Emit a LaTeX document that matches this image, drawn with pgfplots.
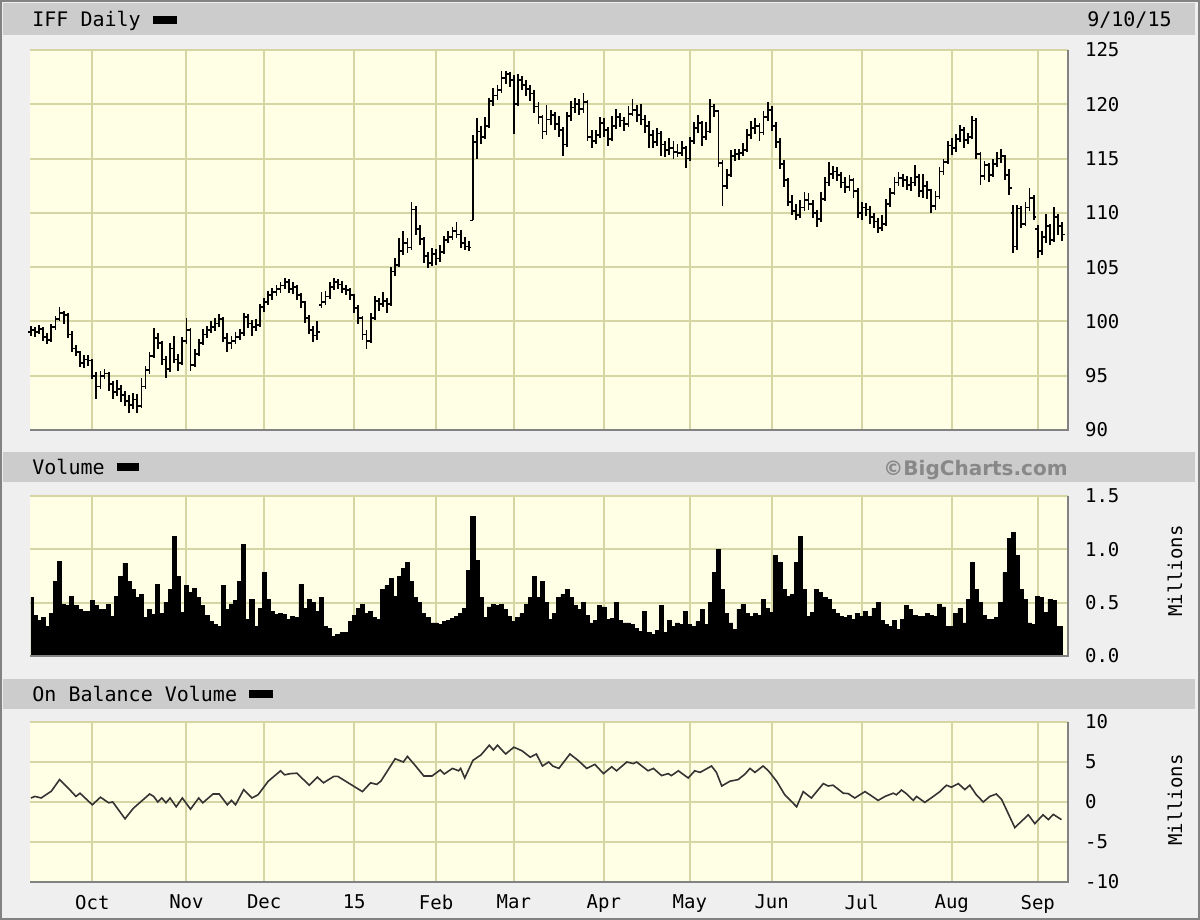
\documentclass[border=0pt]{standalone}
\usepackage{fontspec}
\setmainfont{DejaVu Sans}
\setmonofont{DejaVu Sans Mono}
\usepackage{pgfplots}
\usepackage{pgfplotstable}
\pgfplotsset{compat=1.18}

\definecolor{panelbg}{RGB}{255,255,230}
\definecolor{gridc}{RGB}{214,214,164}
\definecolor{outerbg}{RGB}{239,239,239}
\definecolor{barbg}{RGB}{204,204,204}
\definecolor{wmark}{RGB}{136,136,136}
\definecolor{bevel}{RGB}{130,130,130}

% open / close ticks of the OHLC bars
\pgfdeclareplotmark{ctick}{\pgfpathmoveto{\pgfpointorigin}\pgfpathlineto{\pgfqpoint{1.3pt}{0pt}}\pgfusepathqstroke}
\pgfdeclareplotmark{otick}{\pgfpathmoveto{\pgfpointorigin}\pgfpathlineto{\pgfqpoint{-1.3pt}{0pt}}\pgfusepathqstroke}

\pgfplotsset{
  bc/.style={
    scale only axis, width=519pt, anchor=north west,
    xmin=-0.22, xmax=253.4,
    axis background/.style={fill=panelbg},
    grid=major, major grid style={gridc, line width=1pt},
    axis line style={draw=none}, major tick length=0pt,
    xtick={15,38,57,79,99,118,140,161,181,203,225,246},
    xticklabels={},
    yticklabel pos=right,
    ticklabel style={font=\ttfamily\fontsize{9.5}{10}\selectfont},
    /pgf/number format/assume math mode=true,
    yticklabel style={anchor=west, xshift=5pt},
  }
}

% trading day index (0 = 9/10/14), open, high, low, close
\pgfplotstableread{
x o h l c
0 99.0 99.6 98.7 99.2
1 99.2 99.5 98.6 99.0
2 99.0 99.7 98.8 99.3
3 99.3 99.5 98.2 98.6
4 98.6 98.9 97.9 98.3
5 98.3 99.8 98.1 99.5
6 99.5 100.5 99.2 100.2
7 100.2 101.3 100.0 100.8
8 100.8 101.0 99.8 100.6
9 100.6 100.8 98.5 98.8
10 98.8 99.1 97.2 97.5
11 97.5 97.8 96.8 97.2
12 97.2 97.3 95.8 96.2
13 96.2 96.9 95.7 96.5
14 96.5 96.9 95.9 96.4
15 96.4 96.5 94.7 95.0
16 95.0 95.3 92.9 94.0
17 94.0 95.4 93.8 95.0
18 95.0 95.6 94.7 95.2
19 95.2 95.3 93.6 94.2
20 94.2 94.5 92.9 93.5
21 93.5 94.6 93.1 93.8
22 93.8 94.1 92.6 93.2
23 93.2 93.6 92.2 92.7
24 92.7 93.2 91.6 92.3
25 92.3 93.4 91.9 92.8
26 92.8 93.3 91.6 92.2
27 92.2 94.8 92.0 94.0
28 94.0 95.9 93.8 95.5
29 95.5 97.2 95.2 96.8
30 96.8 99.4 96.6 98.5
31 98.5 98.9 97.5 98.0
32 98.0 98.2 96.0 96.5
33 96.5 96.8 94.8 95.6
34 95.6 98.0 95.3 97.5
35 97.5 98.7 96.2 96.5
36 96.5 97.0 95.4 96.2
37 96.2 98.6 96.0 98.2
38 98.2 100.3 97.9 99.2
39 99.2 99.4 95.4 96.0
40 96.0 97.5 95.8 97.0
41 97.0 98.4 96.8 98.0
42 98.0 99.3 97.8 98.8
43 98.8 99.6 98.5 99.2
44 99.2 100.0 98.9 99.5
45 99.5 100.3 99.1 99.8
46 99.8 100.7 99.5 100.2
47 100.2 100.4 98.1 98.5
48 98.5 98.9 97.2 98.0
49 98.0 98.7 97.5 98.2
50 98.2 99.0 97.9 98.6
51 98.6 99.3 98.3 98.9
52 98.9 100.8 98.7 100.4
53 100.4 100.7 99.4 99.8
54 99.8 100.1 98.7 99.5
55 99.5 100.2 99.1 99.7
56 99.7 101.6 99.5 101.3
57 101.3 102.2 100.9 101.8
58 101.8 102.8 101.5 102.4
59 102.4 103.1 102.0 102.7
60 102.7 103.4 102.3 103.0
61 103.0 103.6 102.6 103.3
62 103.3 104.0 103.0 103.6
63 103.6 103.9 102.6 103.0
64 103.0 103.6 102.5 103.2
65 103.2 103.4 102.0 102.4
66 102.4 102.6 101.2 101.8
67 101.8 101.9 99.9 100.3
68 100.3 100.6 98.8 99.2
69 99.2 99.6 98.1 98.7
70 98.7 100.0 98.3 99.0
71 101.5 102.7 101.2 101.8
72 101.8 102.8 101.5 102.3
73 102.3 103.6 102.1 103.2
74 103.2 104.0 102.9 103.6
75 103.6 103.9 103.0 103.4
76 103.4 103.7 102.6 103.0
77 103.0 103.4 102.4 102.9
78 102.9 103.1 102.0 102.4
79 102.4 102.5 100.8 101.2
80 101.2 101.5 99.8 100.3
81 100.3 100.5 98.3 98.8
82 98.8 99.2 97.5 98.2
83 98.2 100.8 98.0 100.3
84 100.3 102.3 100.1 101.9
85 101.9 102.2 101.0 101.6
86 101.6 102.7 101.3 101.9
87 101.9 102.2 100.8 101.6
88 101.6 105.0 101.4 104.6
89 104.6 105.8 104.2 105.2
90 105.2 107.7 105.0 106.5
91 106.5 108.3 106.1 107.2
92 107.2 107.7 106.3 106.8
93 106.8 111.0 106.6 110.3
94 110.3 110.6 108.0 108.5
95 108.5 108.9 107.0 107.6
96 107.6 107.8 105.4 106.0
97 106.0 106.4 104.9 105.4
98 105.4 106.8 105.1 106.2
99 106.2 106.7 105.2 105.8
100 105.8 107.0 105.5 106.4
101 106.4 107.9 106.2 107.5
102 107.5 108.3 107.2 107.8
103 107.8 108.7 107.5 108.3
104 108.3 109.2 107.7 108.0
105 108.0 108.4 106.8 107.2
106 107.2 107.8 106.6 106.9
107 106.9 107.4 106.5 106.8
108 109.3 117.2 109.3 116.5
109 116.5 118.7 115.0 117.5
110 117.5 118.0 116.3 117.0
111 117.0 118.8 116.8 118.0
112 118.0 120.6 117.8 120.3
113 120.3 121.5 119.8 120.8
114 120.8 121.8 120.4 121.3
115 121.3 123.1 121.0 122.4
116 122.4 123.1 121.9 122.8
117 122.8 123.0 121.6 122.2
118 122.2 122.7 117.3 120.0
119 120.0 122.8 119.8 122.2
120 122.2 122.6 121.3 121.8
121 121.8 122.2 120.8 121.4
122 121.4 121.8 120.3 121.0
123 121.0 121.3 119.2 119.8
124 119.8 120.2 118.2 118.8
125 118.8 119.0 116.8 117.5
126 117.5 119.9 117.2 118.6
127 118.6 119.5 118.1 119.0
128 119.0 119.3 117.6 118.2
129 118.2 118.9 117.0 117.6
130 117.6 117.9 115.2 116.3
131 116.3 119.3 116.1 118.9
132 118.9 120.3 118.5 119.7
133 119.7 120.6 119.2 120.0
134 120.0 120.5 119.0 119.6
135 119.6 121.0 119.2 120.2
136 120.2 120.4 116.6 117.0
137 117.0 117.6 116.0 116.6
138 116.6 117.6 116.3 117.2
139 117.2 118.8 116.9 118.3
140 118.3 118.7 117.0 117.6
141 117.6 117.9 116.2 116.8
142 116.8 118.9 116.6 118.0
143 118.0 119.6 117.7 118.8
144 118.8 119.2 117.9 118.5
145 118.5 118.8 117.5 118.2
146 118.2 119.8 117.9 119.1
147 119.1 120.5 118.9 119.5
148 119.5 119.9 118.4 119.0
149 119.0 120.0 118.1 118.6
150 118.6 119.0 117.4 118.0
151 118.0 118.5 116.0 117.2
152 117.2 117.6 116.0 116.5
153 116.5 117.8 116.2 117.3
154 117.3 117.5 115.2 116.3
155 116.3 116.6 115.1 115.8
156 115.8 116.9 115.3 116.0
157 116.0 116.6 115.0 115.6
158 115.6 116.3 115.1 115.5
159 115.5 116.6 115.2 116.0
160 116.0 116.2 114.1 115.0
161 115.0 117.0 114.8 116.6
162 116.6 118.4 116.3 117.8
163 117.8 119.0 117.4 118.3
164 118.3 118.5 116.2 117.0
165 117.0 118.4 116.7 117.5
166 117.5 120.5 117.4 119.8
167 119.8 120.0 118.8 119.4
168 119.4 119.5 114.2 114.6
169 114.6 114.9 110.6 112.5
170 112.5 114.0 112.2 113.5
171 113.5 115.8 113.3 115.2
172 115.2 115.9 114.8 115.4
173 115.4 115.9 114.9 115.5
174 115.5 116.4 115.2 115.8
175 115.8 117.7 115.6 117.2
176 117.2 118.5 116.8 117.8
177 117.8 118.7 117.3 118.0
178 118.0 118.3 116.6 117.4
179 117.4 119.4 117.2 118.8
180 118.8 120.2 118.5 119.5
181 119.5 119.8 117.5 118.0
182 118.0 118.4 116.0 116.5
183 116.5 116.9 114.0 114.5
184 114.5 114.9 112.4 113.0
185 113.0 113.2 110.6 111.0
186 111.0 111.6 109.8 110.2
187 110.2 110.8 109.3 109.8
188 109.8 111.2 109.5 110.5
189 110.5 111.9 110.2 111.2
190 111.2 111.8 110.3 110.8
191 110.8 111.2 109.5 110.0
192 110.0 110.3 108.7 109.4
193 109.4 111.9 109.2 111.3
194 111.3 113.3 111.1 112.8
195 112.8 114.7 112.5 113.6
196 113.6 114.3 113.1 113.8
197 113.8 114.2 112.9 113.5
198 113.5 113.8 112.3 112.8
199 112.8 113.3 111.8 112.4
200 112.4 113.5 112.0 113.0
201 113.0 113.2 111.4 112.0
202 112.0 112.3 109.5 110.0
203 110.0 111.0 109.3 110.5
204 110.5 110.9 109.7 110.3
205 110.3 110.6 109.0 109.6
206 109.6 110.0 108.6 109.2
207 109.2 109.5 108.1 108.6
208 108.6 109.8 108.3 109.0
209 109.0 111.3 108.8 110.8
210 110.8 112.3 110.5 111.8
211 111.8 113.3 111.6 112.8
212 112.8 113.8 112.5 113.2
213 113.2 113.6 112.4 113.0
214 113.0 113.4 112.1 112.6
215 112.6 113.3 112.0 112.8
216 112.8 114.4 112.5 113.3
217 113.3 113.6 111.5 112.0
218 112.0 113.6 111.4 112.5
219 112.5 112.9 111.3 112.1
220 112.1 112.2 110.0 110.6
221 110.6 112.0 110.3 111.5
222 111.5 114.2 111.3 113.8
223 113.8 115.0 113.5 114.7
224 114.7 116.6 114.5 116.2
225 116.2 116.9 115.3 116.0
226 116.0 117.3 115.6 116.8
227 116.8 118.1 116.5 117.6
228 117.6 117.9 116.0 116.7
229 116.7 117.4 116.3 117.0
230 117.0 118.9 116.8 118.5
231 118.5 118.7 115.0 115.4
232 115.4 115.6 112.6 113.4
233 113.4 114.8 113.0 114.4
234 114.4 114.6 112.8 113.5
235 113.5 115.0 113.3 114.5
236 114.5 115.6 114.2 115.0
237 115.0 115.9 114.6 115.2
238 115.2 115.3 113.0 113.5
239 113.5 114.0 111.6 112.3
240 110.0 110.7 106.3 106.9
241 106.9 110.7 106.6 110.4
242 110.4 110.6 108.6 109.0
243 109.0 111.0 108.8 110.5
244 110.5 112.3 110.2 111.4
245 111.4 111.6 109.3 109.6
246 108.5 108.9 105.8 106.5
247 106.5 108.3 106.1 107.8
248 107.8 109.9 107.2 108.8
249 108.8 109.0 107.0 107.5
250 107.5 110.5 107.3 109.6
251 109.6 109.9 108.0 108.8
252 108.8 109.2 107.4 108.0
}\price

\begin{document}
\begin{tikzpicture}
\useasboundingbox (0,0) rectangle (600pt,-460pt);
\fill[outerbg] (0,0) rectangle (600pt,-460pt);
\draw[bevel, line width=1pt] (0.5pt,-0.5pt) rectangle (599.5pt,-459.5pt);
% header bars
\fill[barbg] (1.5pt,-1.5pt) rectangle (597.5pt,-17.5pt);
\fill[barbg] (1.5pt,-226pt) rectangle (597.5pt,-241pt);
\fill[barbg] (1.5pt,-339.5pt) rectangle (597.5pt,-354.5pt);
\node[anchor=base west, inner sep=0pt, font=\ttfamily\fontsize{10}{12}\selectfont] at (16pt,-13.5pt) {IFF Daily\hspace{6pt}\rule[1.5pt]{12pt}{4pt}};
\node[anchor=base east, inner sep=0pt, font=\ttfamily\fontsize{10}{12}\selectfont] at (586pt,-13.5pt) {9/10/15};
\node[anchor=base west, inner sep=0pt, font=\ttfamily\fontsize{10}{12}\selectfont] at (16pt,-237pt) {Volume\hspace{6pt}\rule[1.5pt]{11pt}{4pt}};
\node[anchor=base east, inner sep=0pt, font=\bfseries\fontsize{10}{12}\selectfont, text=wmark] at (534pt,-237.5pt) {©BigCharts.com};
\node[anchor=base west, inner sep=0pt, font=\ttfamily\fontsize{10}{12}\selectfont] at (16pt,-350.5pt) {On Balance Volume\hspace{6pt}\rule[1.5pt]{12pt}{4pt}};
\node[rotate=90, inner sep=0pt, font=\ttfamily\fontsize{9.5}{10}\selectfont] at (587.5pt,-285.5pt) {Millions};
\node[rotate=90, inner sep=0pt, font=\ttfamily\fontsize{9.5}{10}\selectfont] at (587.5pt,-400pt) {Millions};

% price
\begin{axis}[bc, at={(15pt,-25pt)}, height=190pt,
  ymin=90, ymax=125, ytick={90,95,...,125}]
\addplot[black, only marks, mark=ctick, mark options={line width=0.9pt},
  error bars/.cd, y dir=both, y explicit, error mark=none,
  error bar style={line width=0.9pt}]
  table[x=x, y=c, y error plus expr=\thisrow{h}-\thisrow{c},
        y error minus expr=\thisrow{c}-\thisrow{l}] {\price};
\addplot[black, only marks, mark=otick, mark options={line width=0.9pt}]
  table[x=x, y=o] {\price};
\end{axis}

% volume (millions)
\begin{axis}[bc, at={(15pt,-248pt)}, height=80pt,
  ymin=0, ymax=1.5, ytick={0,0.5,1,1.5},
  yticklabel style={/pgf/number format/.cd, fixed, fixed zerofill, precision=1}]
\addplot[fill=black, draw=black, const plot mark mid] coordinates {
(0,0.55) (1,0.38) (2,0.33) (3,0.36) (4,0.28) (5,0.40) (6,0.70) (7,0.89) (8,0.48) (9,0.47)
(10,0.56) (11,0.47) (12,0.44) (13,0.42) (14,0.42) (15,0.52) (16,0.47) (17,0.44) (18,0.44) (19,0.48)
(20,0.37) (21,0.56) (22,0.75) (23,0.87) (24,0.70) (25,0.62) (26,0.55) (27,0.58) (28,0.36) (29,0.44)
(30,0.39) (31,0.67) (32,0.40) (33,0.50) (34,0.62) (35,1.12) (36,0.75) (37,0.41) (38,0.66) (39,0.60)
(40,0.63) (41,0.55) (42,0.47) (43,0.38) (44,0.32) (45,0.30) (46,0.28) (47,0.66) (48,0.44) (49,0.48)
(50,0.52) (51,0.70) (52,1.05) (53,0.34) (54,0.53) (55,0.28) (56,0.45) (57,0.78) (58,0.53) (59,0.42)
(60,0.39) (61,0.40) (62,0.39) (63,0.34) (64,0.37) (65,0.36) (66,0.67) (67,0.45) (68,0.53) (69,0.50)
(70,0.42) (71,0.55) (72,0.28) (73,0.26) (74,0.18) (75,0.20) (76,0.22) (77,0.22) (78,0.32) (79,0.38)
(80,0.45) (81,0.48) (82,0.40) (83,0.42) (84,0.36) (85,0.34) (86,0.62) (87,0.66) (88,0.73) (89,0.56)
(90,0.75) (91,0.82) (92,0.88) (93,0.70) (94,0.55) (95,0.50) (96,0.40) (97,0.36) (98,0.31) (99,0.31)
(100,0.30) (101,0.32) (102,0.33) (103,0.35) (104,0.37) (105,0.40) (106,0.45) (107,0.80) (108,1.31) (109,0.90)
(110,0.55) (111,0.36) (112,0.46) (113,0.48) (114,0.47) (115,0.48) (116,0.44) (117,0.37) (118,0.32) (119,0.36)
(120,0.40) (121,0.48) (122,0.55) (123,0.75) (124,0.55) (125,0.70) (126,0.50) (127,0.34) (128,0.40) (129,0.55)
(130,0.58) (131,0.62) (132,0.55) (133,0.47) (134,0.44) (135,0.50) (136,0.38) (137,0.31) (138,0.33) (139,0.47)
(140,0.46) (141,0.34) (142,0.35) (143,0.50) (144,0.33) (145,0.31) (146,0.31) (147,0.30) (148,0.26) (149,0.23)
(150,0.42) (151,0.22) (152,0.20) (153,0.24) (154,0.47) (155,0.22) (156,0.33) (157,0.28) (158,0.31) (159,0.30)
(160,0.42) (161,0.30) (162,0.28) (163,0.32) (164,0.44) (165,0.30) (166,0.50) (167,0.78) (168,1.00) (169,0.62)
(170,0.40) (171,0.31) (172,0.25) (173,0.44) (174,0.48) (175,0.40) (176,0.37) (177,0.40) (178,0.38) (179,0.53)
(180,0.45) (181,0.41) (182,0.94) (183,0.88) (184,0.62) (185,0.56) (186,0.58) (187,0.88) (188,1.12) (189,0.62)
(190,0.37) (191,0.41) (192,0.62) (193,0.60) (194,0.55) (195,0.53) (196,0.44) (197,0.40) (198,0.37) (199,0.36)
(200,0.38) (201,0.34) (202,0.40) (203,0.37) (204,0.42) (205,0.37) (206,0.45) (207,0.50) (208,0.33) (209,0.30)
(210,0.28) (211,0.33) (212,0.25) (213,0.34) (214,0.47) (215,0.44) (216,0.38) (217,0.37) (218,0.37) (219,0.40)
(220,0.38) (221,0.37) (222,0.48) (223,0.46) (224,0.28) (225,0.28) (226,0.40) (227,0.45) (228,0.31) (229,0.53)
(230,0.88) (231,0.62) (232,0.50) (233,0.38) (234,0.34) (235,0.34) (236,0.36) (237,0.50) (238,0.78) (239,1.10)
(240,1.16) (241,0.94) (242,0.62) (243,0.53) (244,0.31) (245,0.30) (246,0.56) (247,0.55) (248,0.41) (249,0.53)
(250,0.52) (251,0.28) (252,0.28)
} \closedcycle;
\end{axis}

% on balance volume (millions)
\begin{axis}[bc, at={(15pt,-361pt)}, height=80pt,
  ymin=-10, ymax=10, ytick={-10,-5,0,5,10},
  xticklabels={Oct,Nov,Dec,15,Feb,Mar,Apr,May,Jun,Jul,Aug,Sep},
  xticklabel style={yshift=-3pt}]
\addplot[black!80, line width=0.8pt] coordinates {
(0,0.5) (1,0.7) (2.5,0.5) (5,1.35) (7,2.8) (9,1.8) (11,0.7) (12,1.1) (15,-0.35) (17,0.6)
(19,-0.1) (20,0) (23,-2.1) (25,-0.8) (29,1.0) (30,0.7) (31,0) (32,0.5) (33,-0.1) (34,0.5)
(35.5,-0.6) (37,0.5) (39,-0.9) (41,0.5) (42,-0.1) (44.5,1.0) (46,1.0) (48,-0.35) (49,0.2) (50,-0.35)
(52,1.55) (54,0.5) (55.5,0.9) (58,2.6) (61,3.9) (62,3.4) (63.5,3.55) (65,3.6) (68,2.1) (70,3.1)
(71.5,2.4) (74,3.2) (75,3.2) (81,1.3) (83,2.4) (84.5,2.2) (85.5,2.6) (89,5.4) (91,5.0) (92,5.7)
(94,4.5) (96,3.25) (98,3.25) (100,4.0) (101,3.5) (103,4.2) (104.5,3.9) (105,4.2) (106,3.0) (108,5.2)
(110,5.9) (112,7.1) (113,6.5) (114,7.1) (116,6.0) (118,6.85) (120,6.4) (122,5.6) (123.5,6.0) (125,4.5)
(126.5,5.0) (127.5,4.5) (129,4.2) (131.7,6.0) (133.7,5.2) (135.8,4.2) (137.8,4.7) (139.9,3.55) (141.9,4.4) (143.1,3.9)
(145.6,5.0) (147.2,4.8) (148,5.0) (150.8,3.9) (152.1,4.2) (154.1,3.3) (155.7,3.55) (156.5,3.3) (158.2,3.9) (160.6,3.0)
(162.2,3.9) (163.5,3.7) (166.3,4.5) (167.5,3.7) (168.8,2.0) (170.8,2.6) (172.8,2.8) (174.5,3.5) (175.7,4.2) (176.9,3.7)
(178.9,4.5) (180.2,3.9) (182.2,2.6) (184.2,0.9) (187.1,-0.6) (188.7,1.3) (190.7,0.5) (193.6,2.3) (194.8,2.0) (196,2.1)
(198.5,1.1) (199.7,1.05) (201.3,0.5) (203.8,1.3) (205,0.9) (207,0.2) (208.7,0.7) (210.7,1.1) (211.5,0.9) (212.7,1.5)
(214,1.0) (215.6,0.2) (216.4,0.7) (218.4,-0.05) (220.5,0.7) (222.1,1.3) (223.7,2.1) (224.9,1.85) (226.6,2.3) (228.2,1.55)
(229.4,2.1) (231,0.9) (232.7,0) (234.3,0.7) (235.9,1.0) (237.2,0.3) (240.4,-3.2) (243.7,-1.6) (245.3,-2.7) (247.3,-1.6)
(248.6,-2.2) (249.8,-1.55) (251.8,-2.2)
};
\end{axis}

% bevelled panel edges
\draw[bevel, line width=1pt] (15pt,-215pt) -- (534pt,-215pt) -- (534pt,-25pt);
\draw[bevel, line width=1pt] (15pt,-328pt) -- (534pt,-328pt) -- (534pt,-248pt);
\draw[bevel, line width=1pt] (15pt,-441pt) -- (534pt,-441pt) -- (534pt,-361pt);
\end{tikzpicture}
\end{document}
